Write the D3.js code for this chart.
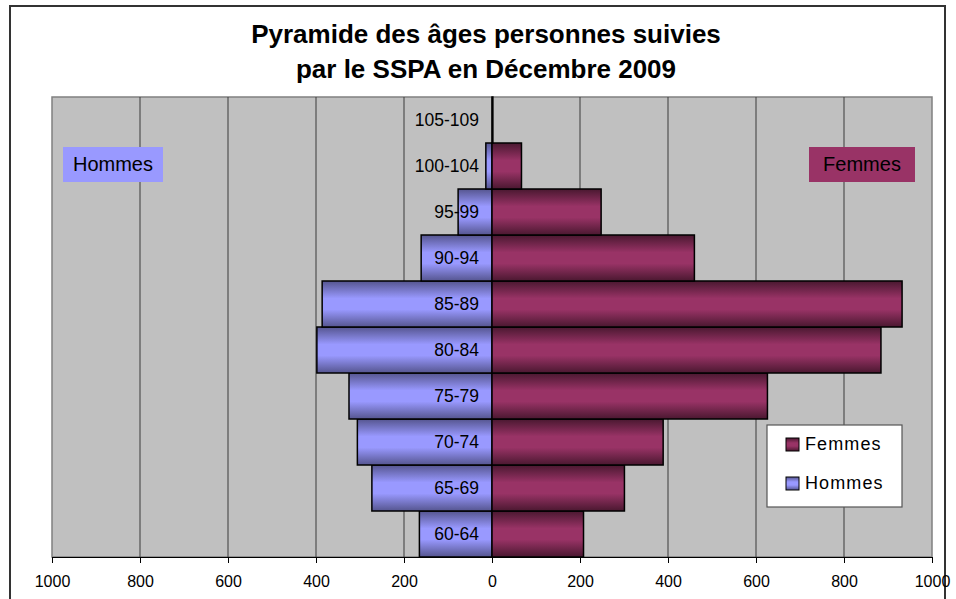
<!DOCTYPE html>
<html>
<head>
<meta charset="utf-8">
<script src="https://cdn.jsdelivr.net/npm/d3@7"></script>
<style>
  body { margin: 0; background: #fff; }
  text { font-family: "Liberation Sans", Arial, sans-serif; }
</style>
</head>
<body>
<div id="chart"></div>
<script>
// age groups, bottom to top
let ageGroups = ["60-64", "65-69", "70-74", "75-79", "80-84", "85-89", "90-94", "95-99", "100-104", "105-109"];
let hommes = [165, 273, 306, 325, 398, 386, 161, 77, 14, 0];
let femmes = [208, 301, 389, 626, 884, 932, 460, 248, 67, 2];
let tickValues = [-1000, -800, -600, -400, -200, 0, 200, 400, 600, 800, 1000];

let width = 956, height = 599;
let margin = {top: 97, right: 24, bottom: 42, left: 52};

let svg = d3.select("#chart").append("svg")
	.attr("width", width)
	.attr("height", height);

// gradients for the bars
let defs = svg.append("defs");
function addGradient(id, dark, light) {
	let g = defs.append("linearGradient")
		.attr("id", id)
		.attr("x1", 0).attr("y1", 0).attr("x2", 0).attr("y2", 1);
	g.append("stop").attr("offset", "0%").attr("stop-color", dark);
	g.append("stop").attr("offset", "38%").attr("stop-color", light);
	g.append("stop").attr("offset", "62%").attr("stop-color", light);
	g.append("stop").attr("offset", "100%").attr("stop-color", dark);
}
addGradient("gradH", "#55558f", "#9999ff");
addGradient("gradF", "#4a1830", "#993366");

// outer frame
svg.append("rect")
	.attr("x", 10).attr("y", 6)
	.attr("width", 935).attr("height", 610)
	.attr("fill", "none")
	.attr("stroke", "#333")
	.attr("stroke-width", 2);

// scales
let x = d3.scaleLinear()
	.domain([-1000, 1000])
	.range([margin.left, width - margin.right]);
let y = d3.scaleBand()
	.domain(ageGroups.slice().reverse())
	.range([margin.top, height - margin.bottom])
	.padding(0);
let plotBottom = height - margin.bottom;

// plot background
svg.append("rect")
	.attr("x", x(-1000)).attr("y", margin.top)
	.attr("width", x(1000) - x(-1000))
	.attr("height", plotBottom - margin.top)
	.attr("fill", "#c0c0c0")
	.attr("stroke", "#808080")
	.attr("stroke-width", 1.5);

// gridlines
svg.append("g").selectAll("line")
	.data(tickValues.filter(d => Math.abs(d) < 1000))
	.enter().append("line")
	.attr("x1", d => x(d)).attr("x2", d => x(d))
	.attr("y1", margin.top).attr("y2", plotBottom)
	.attr("stroke", "#3a3a3a")
	.attr("stroke-width", 1);

// bars - hommes
svg.append("g").selectAll("rect")
	.data(ageGroups.map((a, i) => ({age: a, value: hommes[i]})))
	.enter().append("rect")
	.attr("x", d => x(-d.value))
	.attr("y", d => y(d.age))
	.attr("width", d => x(0) - x(-d.value))
	.attr("height", y.bandwidth())
	.attr("fill", "url(#gradH)")
	.attr("stroke", "#000")
	.attr("stroke-width", 1.5);

// bars - femmes
svg.append("g").selectAll("rect")
	.data(ageGroups.map((a, i) => ({age: a, value: femmes[i]})))
	.enter().append("rect")
	.attr("x", x(0))
	.attr("y", d => y(d.age))
	.attr("width", d => x(d.value) - x(0))
	.attr("height", y.bandwidth())
	.attr("fill", "url(#gradF)")
	.attr("stroke", "#000")
	.attr("stroke-width", 1.5);

// age labels
svg.append("g").selectAll("text")
	.data(ageGroups)
	.enter().append("text")
	.attr("x", x(0) - 13)
	.attr("y", d => y(d) + y.bandwidth() / 2 + 6)
	.attr("text-anchor", "end")
	.attr("font-size", 17.5)
	.attr("fill", "#000")
	.text(d => d);

// x axis
let xAxis = d3.axisBottom(x)
	.tickValues(tickValues)
	.tickSize(6)
	.tickFormat(d => Math.abs(d));
let axisG = svg.append("g")
	.attr("transform", "translate(0," + plotBottom + ")")
	.call(xAxis);
axisG.select(".domain").attr("stroke", "#000");
axisG.selectAll(".tick line").attr("stroke", "#000");
axisG.selectAll(".tick text")
	.attr("font-family", "Liberation Sans, Arial, sans-serif")
	.attr("font-size", 16)
	.attr("fill", "#000")
	.attr("dy", 0)
	.attr("y", 30);

// title
let title = svg.append("text")
	.attr("x", 486)
	.attr("text-anchor", "middle")
	.attr("font-size", 26)
	.attr("font-weight", "bold")
	.attr("fill", "#000");
title.append("tspan").attr("x", 486).attr("y", 43).text("Pyramide des âges personnes suivies");
title.append("tspan").attr("x", 486).attr("y", 78).text("par le SSPA en Décembre 2009");

// side labels
svg.append("rect")
	.attr("x", 63).attr("y", 147).attr("width", 100).attr("height", 35)
	.attr("fill", "#9999ff");
svg.append("text")
	.attr("x", 113).attr("y", 171)
	.attr("text-anchor", "middle")
	.attr("font-size", 20)
	.text("Hommes");
svg.append("rect")
	.attr("x", 809).attr("y", 147).attr("width", 106).attr("height", 35)
	.attr("fill", "#993366");
svg.append("text")
	.attr("x", 862).attr("y", 171)
	.attr("text-anchor", "middle")
	.attr("font-size", 20)
	.text("Femmes");

// legend
let legend = svg.append("g");
legend.append("rect")
	.attr("x", 767).attr("y", 425).attr("width", 135).attr("height", 82)
	.attr("fill", "#fff")
	.attr("stroke", "#555")
	.attr("stroke-width", 1.2);
let legendItems = [{name: "Femmes", grad: "url(#gradF)"}, {name: "Hommes", grad: "url(#gradH)"}];
legendItems.forEach((d, i) => {
	legend.append("rect")
		.attr("x", 786).attr("y", 438 + i * 39)
		.attr("width", 13).attr("height", 13)
		.attr("fill", d.grad)
		.attr("stroke", "#000")
		.attr("stroke-width", 1);
	legend.append("text")
		.attr("x", 805).attr("y", 450 + i * 39)
		.attr("font-size", 18)
		.attr("letter-spacing", 1.1)
		.text(d.name);
});
</script>
</body>
</html>
